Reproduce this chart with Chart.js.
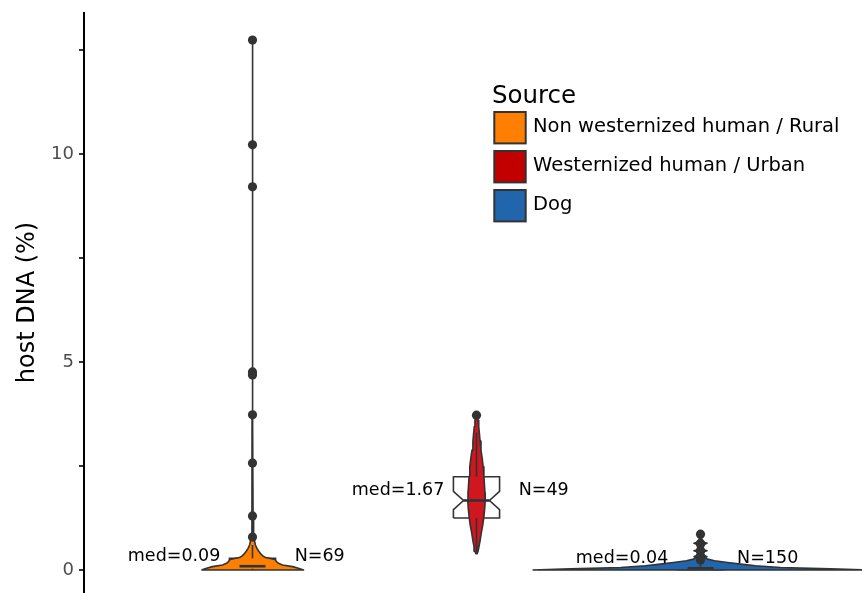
<!DOCTYPE html>
<html>
<head>
<meta charset="utf-8">
<script src="https://cdn.jsdelivr.net/npm/chart.js@4.4.1/dist/chart.umd.min.js"></script>
<style>
  body { margin: 0; background: #fff; }
  #contenedor { width: 862px; height: 593px; }
</style>
</head>
<body>
<div id="contenedor">
  <canvas id="grafico" width="862" height="593"></canvas>
</div>
<script>
// grupos y valores
const grupos = ["Non westernized human / Rural", "Westernized human / Urban", "Dog"];
const posiciones = [1, 2, 3];
const coloresViolin = ["#FF7F00", "#D0161E", "#2166AC"];
const coloresLeyenda = ["#FF7F00", "#C20000", "#2166AC"];
const tamanos = [69, 49, 150];

const medianas = [0.09, 1.67, 0.04];
const cuartilInf = [0.03, 1.25, 0.005];
const cuartilSup = [0.28, 2.24, 0.08];
const muescaInf = [0.045, 1.45, 0.03];
const muescaSup = [0.135, 1.89, 0.05];
const bigoteInf = [0, 0.38, 0];
const bigoteSup = [0.6, 3.3, 0.2];

const atipicosRural = [12.74, 10.22, 9.21, 4.76, 4.69, 3.73, 2.57, 1.30, 0.79];
const atipicosUrbano = [3.72];
const atipicosPerro = [0.86, 0.64, 0.62, 0.47, 0.45, 0.33, 0.31, 0.27, 0.24];

// perfil de cada violin: altura y medio ancho (en unidades del eje x)
const violinRuralY = [0, 0.04, 0.08, 0.12, 0.16, 0.2, 0.25, 0.28, 0.3, 0.34, 0.38, 0.45, 0.52, 0.6, 0.7, 0.8, 1.3, 3.7, 9.2, 12.74];
const violinRuralAncho = [0.228, 0.205, 0.179, 0.134, 0.116, 0.107, 0.1, 0.075, 0.058, 0.046, 0.038, 0.028, 0.02, 0.013, 0.009, 0.005, 0.0025, 0.002, 0.002, 0];
const violinUrbanoY = [0.38, 0.45, 0.56, 0.7, 0.88, 1.08, 1.28, 1.5, 1.68, 1.85, 2.0, 2.25, 2.48, 2.7, 2.88, 3.1, 3.3, 3.45, 3.6, 3.72];
const violinUrbanoAncho = [0.002, 0.007, 0.011, 0.016, 0.021, 0.028, 0.033, 0.037, 0.039, 0.038, 0.036, 0.033, 0.030, 0.025, 0.020, 0.016, 0.0125, 0.010, 0.007, 0];
const violinPerroY = [0, 0.025, 0.06, 0.1, 0.14, 0.18, 0.22, 0.26, 0.29, 0.32, 0.35, 0.39, 0.43, 0.46, 0.49, 0.54, 0.6, 0.64, 0.68, 0.76, 0.86];
const violinPerroAncho = [0.75, 0.58, 0.357, 0.246, 0.179, 0.121, 0.0625, 0.031, 0.022, 0.029, 0.018, 0.009, 0.011, 0.029, 0.011, 0.0067, 0.009, 0.029, 0.009, 0.0045, 0];

const ticksY = [0, 2.5, 5, 7.5, 10, 12.5];
const ticksConEtiqueta = [0, 5, 10];

const atipicos = [atipicosRural, atipicosUrbano, atipicosPerro];
const violinY = [violinRuralY, violinUrbanoY, violinPerroY];
const violinAncho = [violinRuralAncho, violinUrbanoAncho, violinPerroAncho];

const GRIS = "#333333";
const MEDIA_CAJA = 0.103;
const MEDIA_MUESCA = 0.058;

function poligonoViolin(i) {
    const c = posiciones[i];
    const izq = violinY[i].map((y, k) => ({x: c - violinAncho[i][k], y: y}));
    const der = violinY[i].map((y, k) => ({x: c + violinAncho[i][k], y: y})).reverse();
    const puntos = izq.concat(der);
    puntos.push(puntos[0]);
    return puntos;
}

function poligonoCaja(i) {
    const c = posiciones[i];
    const puntos = [
        {x: c - MEDIA_CAJA, y: cuartilInf[i]},
        {x: c - MEDIA_CAJA, y: muescaInf[i]},
        {x: c - MEDIA_MUESCA, y: medianas[i]},
        {x: c - MEDIA_CAJA, y: muescaSup[i]},
        {x: c - MEDIA_CAJA, y: cuartilSup[i]},
        {x: c + MEDIA_CAJA, y: cuartilSup[i]},
        {x: c + MEDIA_CAJA, y: muescaSup[i]},
        {x: c + MEDIA_MUESCA, y: medianas[i]},
        {x: c + MEDIA_CAJA, y: muescaInf[i]},
        {x: c + MEDIA_CAJA, y: cuartilInf[i]}
    ];
    puntos.push(puntos[0]);
    return puntos;
}

function linea(datos, ancho) {
    return {
        data: datos,
        borderColor: GRIS,
        borderWidth: ancho,
        pointRadius: 0,
        fill: false,
        tension: 0
    };
}

// se arman en orden de dibujo (lo primero queda abajo)
const capas = [];
posiciones.forEach((c, i) => {
    capas.push({
        data: poligonoCaja(i),
        borderColor: GRIS,
        borderWidth: 1.6,
        backgroundColor: "#FFFFFF",
        fill: "shape",
        pointRadius: 0,
        tension: 0
    });
});
posiciones.forEach((c, i) => {
    capas.push({
        data: poligonoViolin(i),
        borderColor: GRIS,
        borderWidth: 1.6,
        borderJoinStyle: "round",
        backgroundColor: coloresViolin[i],
        fill: "shape",
        pointRadius: 0,
        tension: 0
    });
});
posiciones.forEach((c, i) => {
    capas.push(linea([{x: c - MEDIA_MUESCA, y: medianas[i]}, {x: c + MEDIA_MUESCA, y: medianas[i]}], 2.6));
    capas.push(linea([{x: c, y: cuartilSup[i]}, {x: c, y: bigoteSup[i]}], 1.6));
    capas.push(linea([{x: c, y: cuartilInf[i]}, {x: c, y: bigoteInf[i]}], 1.6));
});
posiciones.forEach((c, i) => {
    capas.push({
        data: atipicos[i].map(v => ({x: c, y: v})),
        showLine: false,
        pointRadius: 4.6,
        pointBackgroundColor: GRIS,
        pointBorderWidth: 0,
        fill: false
    });
});
capas.forEach((d, k) => { d.order = capas.length - k; });

const etiquetas = {
    id: "etiquetas",
    afterDatasetsDraw(chart) {
        const ctx = chart.ctx;
        const x = chart.scales.x;
        const y = chart.scales.y;
        ctx.save();
        ctx.font = '17.5px "DejaVu Sans"';
        ctx.fillStyle = "#000";
        ctx.textAlign = "center";
        ctx.textBaseline = "alphabetic";
        posiciones.forEach((c, i) => {
            const py = y.getPixelForValue(medianas[i] + 0.13);
            ctx.fillText("med=" + medianas[i].toFixed(2), x.getPixelForValue(c - 0.35), py);
            ctx.fillText("N=" + tamanos[i], x.getPixelForValue(c + 0.3), py);
        });

        // leyenda
        ctx.textAlign = "left";
        ctx.font = '24.5px "DejaVu Sans"';
        ctx.fillText("Source", 492, 102.5);
        ctx.font = '19.5px "DejaVu Sans"';
        grupos.forEach((g, i) => {
            const top = 112 + i * 39;
            ctx.fillStyle = coloresLeyenda[i];
            ctx.fillRect(494.3, top, 31.4, 31.4);
            ctx.strokeStyle = GRIS;
            ctx.lineWidth = 2;
            ctx.strokeRect(494.3, top, 31.4, 31.4);
            ctx.fillStyle = "#000";
            ctx.textBaseline = "middle";
            ctx.fillText(g, 533, top + 15.2);
        });
        ctx.restore();
    }
};

Chart.defaults.font.family = '"DejaVu Sans"';

new Chart("grafico", {
    type: "line",
    data: { datasets: capas },
    options: {
        responsive: false,
        animation: false,
        devicePixelRatio: 1,
        layout: { autoPadding: false, padding: { top: 13, bottom: 1, left: 0, right: 0 } },
        plugins: {
            legend: { display: false },
            tooltip: { enabled: false }
        },
        scales: {
            x: {
                type: "linear",
                min: 0.2478,
                max: 3.721,
                display: false
            },
            y: {
                type: "linear",
                min: -0.53,
                max: 13.39,
                afterFit(escala) {
                    escala.width = 84;
                    escala.paddingTop = 0;
                    escala.paddingBottom = 0;
                },
                border: { color: "#000", width: 2 },
                grid: { drawOnChartArea: false, tickLength: 5, color: GRIS, lineWidth: 2 },
                afterBuildTicks(escala) { escala.ticks = ticksY.map(v => ({value: v})); },
                ticks: {
                    padding: 5,
                    color: "#4D4D4D",
                    font: { size: 18 },
                    callback: v => ticksConEtiqueta.includes(v) ? String(v) : ""
                },
                title: {
                    display: true,
                    text: "host DNA (%)",
                    color: "#000",
                    font: { size: 24 },
                    padding: { top: 13, bottom: 0 }
                }
            }
        }
    },
    plugins: [etiquetas]
});
</script>
</body>
</html>
